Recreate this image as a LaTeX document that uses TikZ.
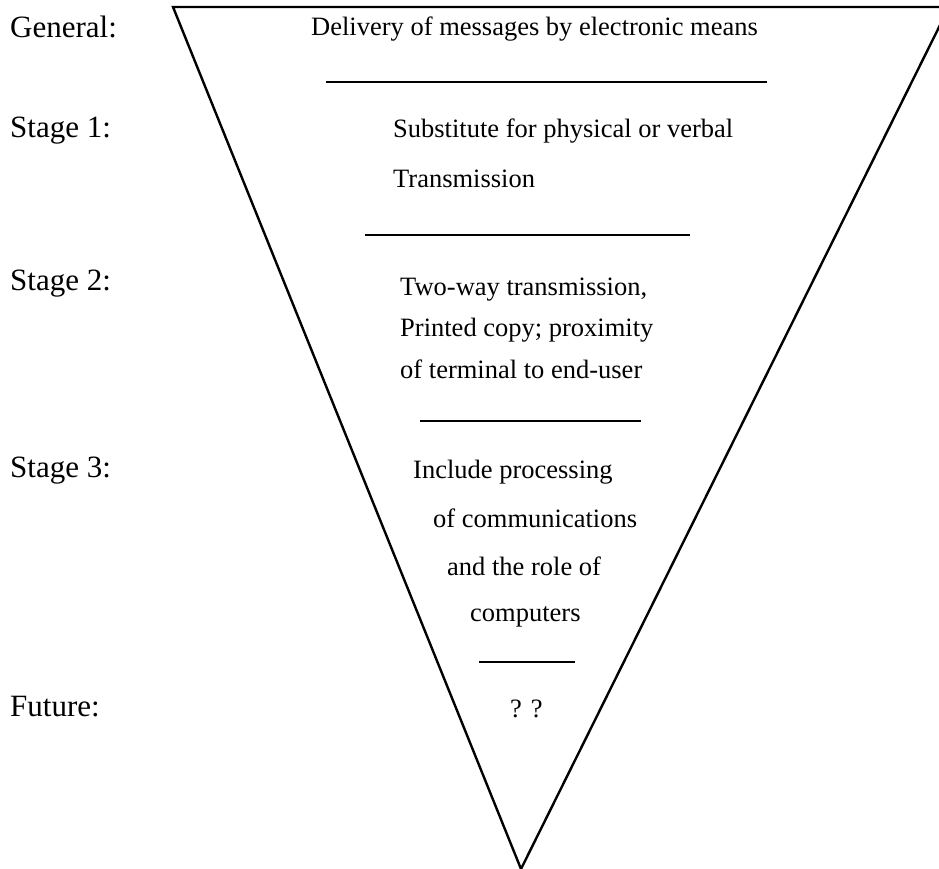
\documentclass[tikz,border=0pt]{standalone}
\usepackage{fontspec}
\setmainfont{Liberation Serif}
\begin{document}
\begin{tikzpicture}[x=1pt,y=-1pt,
  lbl/.style={font=\fontsize{31}{31}\selectfont, anchor=base west, inner sep=0pt},
  body/.style={font=\fontsize{26.5}{26.5}\selectfont, anchor=base west, inner sep=0pt},
  rule/.style={line width=2.4pt}]
\useasboundingbox (0,0) rectangle (939,869);
% triangle
\coordinate (tl) at (173,7);
\coordinate (tr) at (949,7);
\coordinate (ap) at (521,869);
\draw[rule, line join=miter] (tl) -- (tr) -- (ap) -- cycle;
% stage labels
\node[lbl] (gen) at (10,38) {General:};
\node[lbl] (s1) at (10,138) {Stage 1:};
\node[lbl] (s2) at (10,290) {Stage 2:};
\node[lbl] (s3) at (10,477) {Stage 3:};
\node[lbl] (fut) at (10,716) {Future:};
% contents
\node[body] (t0) at (311,36) {Delivery of messages by electronic means};
\coordinate (r1a) at (326,82); \coordinate (r1b) at (767,82);
\draw[rule] (r1a) -- (r1b);
\node[body] (t1a) at (393,138) {Substitute for physical or verbal};
\node[body] (t1b) at (393,187) {Transmission};
\coordinate (r2a) at (365,235); \coordinate (r2b) at (690,235);
\draw[rule] (r2a) -- (r2b);
\node[body] (t2a) at (400,295) {Two-way transmission,};
\node[body] (t2b) at (400,336) {Printed copy; proximity};
\node[body] (t2c) at (400,378) {of terminal to end-user};
\coordinate (r3a) at (420,421); \coordinate (r3b) at (641,421);
\draw[rule] (r3a) -- (r3b);
\node[body] (t3a) at (413,478) {Include processing};
\node[body] (t3b) at (433,527) {of communications};
\node[body] (t3c) at (447,575) {and the role of};
\node[body] (t3d) at (470,621) {computers};
\coordinate (r4a) at (479,662); \coordinate (r4b) at (575,662);
\draw[rule] (r4a) -- (r4b);
\node[body] (t4) at (510,717) {? ?};
\end{tikzpicture}
\end{document}
